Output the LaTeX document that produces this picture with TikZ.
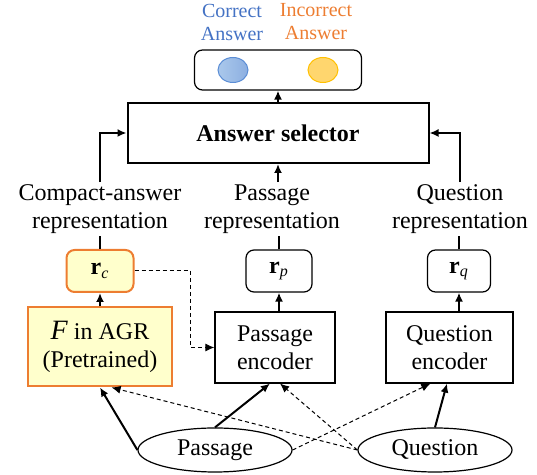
\documentclass[tikz,border=0pt]{standalone}
\usepackage{fontspec}
\setmainfont{Liberation Serif}
\usetikzlibrary{arrows.meta,shapes.geometric}
\definecolor{agrorange}{RGB}{237,125,49}
\definecolor{agrfill}{RGB}{255,255,204}
\definecolor{corblue}{RGB}{68,114,196}
\definecolor{incorange}{RGB}{237,125,49}
\tikzset{
  box/.style={draw, line width=0.6pt, inner sep=0pt, align=center},
  rbox/.style={box, rounded corners=4pt},
  obox/.style={box, draw=agrorange, fill=agrfill, line width=1pt},
  lab/.style={align=center, inner sep=1pt},
  ans/.style={ellipse, inner sep=0pt, minimum width=15pt, minimum height=12.5pt, line width=0.5pt},
  inp/.style={ellipse, draw, inner sep=0pt, minimum width=77pt, minimum height=22pt, line width=0.6pt},
  arr/.style={-{Latex[length=4.5pt,width=4pt]}, line width=1pt},
  darr/.style={-{Latex[length=4.5pt,width=4pt]}, line width=0.5pt, dash pattern=on 2pt off 1.5pt},
}
\begin{document}
\begin{tikzpicture}[x=0.5pt, y=-0.5pt, font=\fontsize{12}{14}\selectfont]
\useasboundingbox (0,0) rectangle (537,475);
% answers
\node[rbox, minimum width=83.5pt, minimum height=20pt] (out) at (278,70) {};
\node[ans, draw={rgb,255:red,91;green,141;blue,213}, left color={rgb,255:red,170;green,200;blue,235}, right color={rgb,255:red,140;green,175;blue,225}] (cor) at (233,70) {};
\node[ans, draw={rgb,255:red,255;green,192;blue,0}, fill={rgb,255:red,255;green,214;blue,110}] (inc) at (323,70) {};
\node[lab, text=corblue, font=\fontsize{10}{11.5}\selectfont] (corlab) at (232,22) {Correct\\Answer};
\node[lab, text=incorange, font=\fontsize{10}{11.5}\selectfont] (inclab) at (316,22) {Incorrect\\Answer};
% selector
\node[box, line width=1pt, minimum width=150.5pt, minimum height=30pt, font=\fontsize{12}{14}\selectfont\bfseries] (sel) at (278,133) {Answer selector};
\draw[arr] (sel.north) -- (out.south);
% representations
\node[lab] (clab) at (100,209) {Compact-answer\\representation};
\node[lab] (plab) at (272,209) {Passage\\representation};
\node[lab] (qlab) at (460,209) {Question\\representation};
\draw[arr] (clab.north) |- (sel.west);
\draw[arr] (sel.south |- plab.north) -- (sel.south);
\draw[arr] (qlab.north) |- (sel.east);
\node[obox, rounded corners=4pt, minimum width=33.5pt, minimum height=21pt] (rc) at (100,271) {\textbf{r}\textsubscript{\textit{c}}};
\node[rbox, minimum width=33pt, minimum height=21pt] (rp) at (279,271) {\textbf{r}\textsubscript{\textit{p}}};
\node[rbox, minimum width=31.5pt, minimum height=21pt] (rq) at (459,271) {\textbf{r}\textsubscript{\textit{q}}};
\draw[line width=1pt] (rc.north) -- (rc.north |- clab.south);
\draw[line width=1pt] (rp.north) -- (rp.north |- plab.south);
\draw[line width=1pt] (rq.north) -- (rq.north |- qlab.south);
% encoders
\node[obox, minimum width=72pt, minimum height=39.5pt] (fagr) at (100,347) {{\fontsize{14}{14}\selectfont\textit{F}} in AGR\\(Pretrained)};
\node[box, minimum width=60pt, minimum height=35.5pt] (penc) at (275,347.5) {Passage\\encoder};
\node[box, minimum width=63.5pt, minimum height=35.5pt] (qenc) at (449.5,347.5) {Question\\encoder};
\draw[arr] (fagr.north) -- (rc.south);
\draw[arr] (rp.south |- penc.north) -- (rp.south);
\draw[arr] (rq.south |- qenc.north) -- (rq.south);
\draw[darr] (rc.east) -- ++(56,0) |- (penc.west);
% inputs
\node[inp] (pas) at (215,450) {Passage};
\node[inp] (qst) at (435,450) {Question};
\draw[arr] (pas.west) -- (fagr.south);
\draw[arr] (pas.north) -- (penc.-98);
\draw[darr] (pas.east) -- (qenc.-118);
\draw[darr] (qst.west) -- (fagr.-74);
\draw[darr] (qst.west) -- (penc.-82);
\draw[arr] (qst.north) -- (qenc.-94);
\end{tikzpicture}
\end{document}
